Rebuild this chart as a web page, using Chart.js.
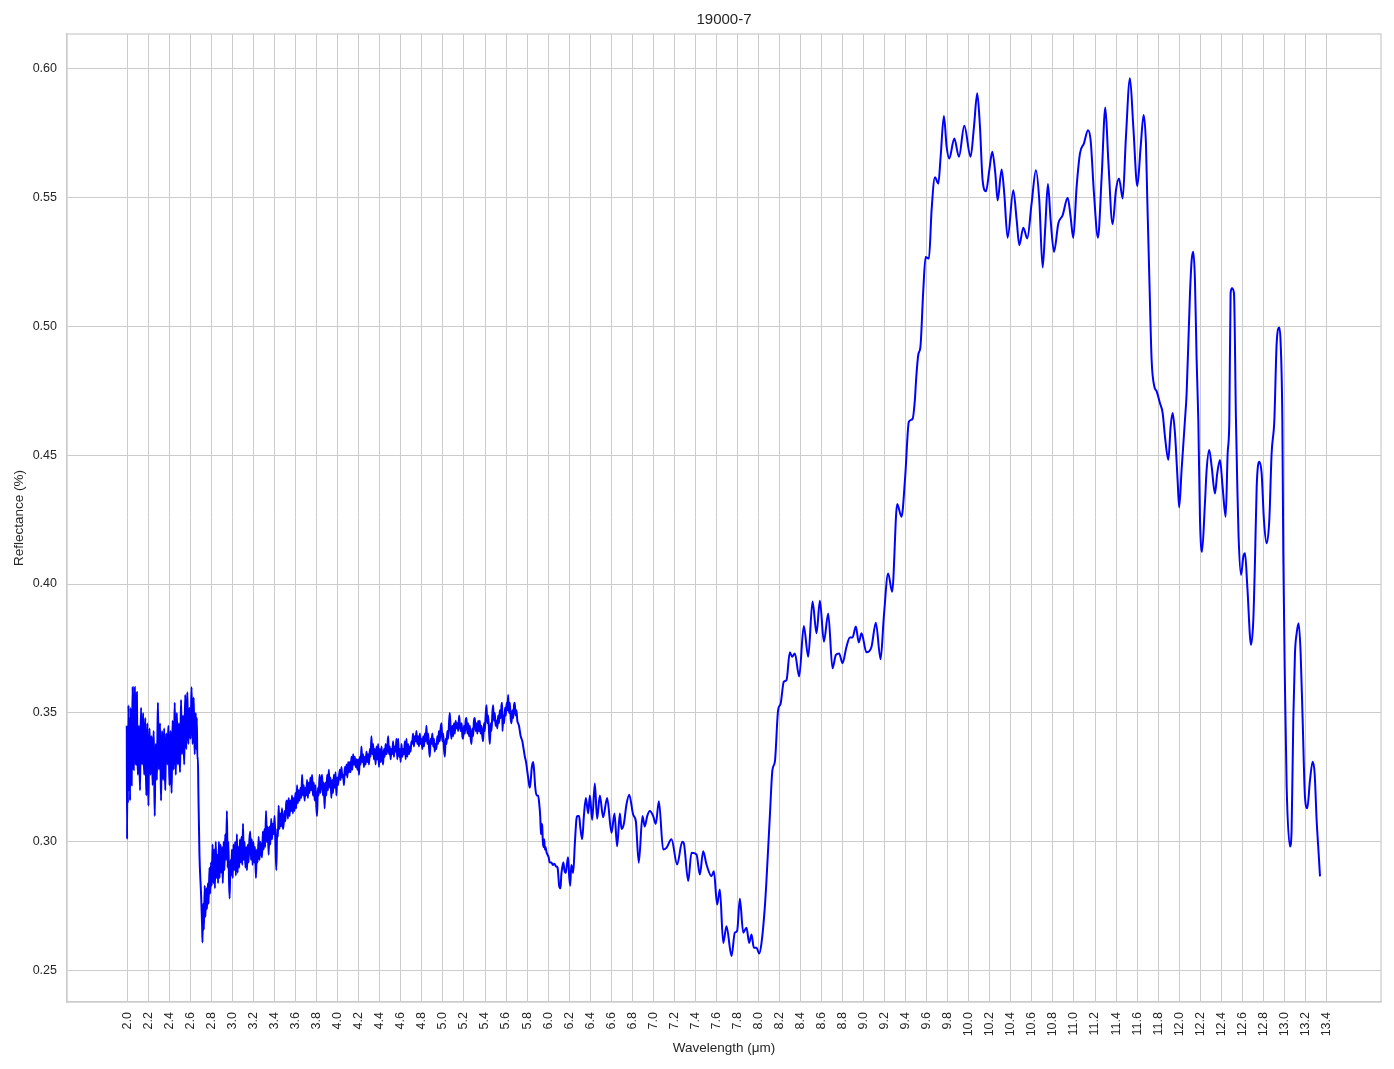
<!DOCTYPE html>
<html lang="en">
<head>
    <meta charset="UTF-8">
    <title>19000-7</title>
    <script src="https://cdn.jsdelivr.net/npm/chart.js"></script>
    <style>
     body{
         margin: 0;
         background: #ffffff;
     }
     #chart-spectrum{
         display: block;
     }
    </style>
</head>
<body>
    <canvas id="chart-spectrum" width="1394" height="1069"></canvas>

<script>
    // tick labels
    const xTicks = [2.0,2.2,2.4,2.6,2.8,3.0,3.2,3.4,3.6,3.8,4.0,4.2,4.4,4.6,4.8,5.0,5.2,5.4,5.6,5.8,
        6.0,6.2,6.4,6.6,6.8,7.0,7.2,7.4,7.6,7.8,8.0,8.2,8.4,8.6,8.8,9.0,9.2,9.4,9.6,9.8,
        10.0,10.2,10.4,10.6,10.8,11.0,11.2,11.4,11.6,11.8,12.0,12.2,12.4,12.6,12.8,13.0,13.2,13.4];
    const yTicks = [0.25,0.30,0.35,0.40,0.45,0.50,0.55,0.60];

    // noisy start 2.0 - 2.7 um
    const wlBand = [1.994,1.997,2.000,2.005,2.010,2.015,2.020,2.025,
        2.030,2.035,2.040,2.045,2.050,2.055,2.060,2.065,2.070,2.075,
        2.080,2.085,2.090,2.095,2.100,2.105,2.110,2.115,2.120,2.125,
        2.130,2.135,2.140,2.145,2.150,2.155,2.160,2.165,2.170,2.175,
        2.180,2.185,2.190,2.195,2.200,2.205,2.210,2.215,2.220,2.225,
        2.230,2.235,2.240,2.245,2.250,2.255,2.260,2.265,2.270,2.275,
        2.280,2.285,2.290,2.295,2.300,2.305,2.310,2.315,2.320,2.325,
        2.330,2.335,2.340,2.345,2.350,2.355,2.360,2.365,2.370,2.375,
        2.380,2.385,2.390,2.395,2.400,2.405,2.410,2.415,2.420,2.425,
        2.430,2.435,2.440,2.445,2.450,2.455,2.460,2.465,2.470,2.475,
        2.480,2.485,2.490,2.495,2.500,2.505,2.510,2.515,2.520,2.525,
        2.530,2.535,2.540,2.545,2.550,2.555,2.560,2.565,2.570,2.575,
        2.580,2.585,2.590,2.595,2.600,2.605,2.610,2.615,2.620,2.625,
        2.630,2.635,2.640,2.645,2.650,
        2.655,2.660,2.665,2.670,2.675,2.685,2.700,2.710,2.714];
    const rfBand = [0.345,0.301,0.340,0.315,0.353,0.320,0.348,0.316,
        0.352,0.331,0.322,0.344,0.360,0.335,0.328,0.350,0.360,0.338,
        0.330,0.352,0.358,0.334,0.326,0.340,0.345,0.331,0.320,0.341,
        0.352,0.336,0.330,0.344,0.350,0.333,0.326,0.339,0.348,0.330,
        0.318,0.337,0.346,0.329,0.314,0.333,0.344,0.336,0.326,0.338,
        0.341,0.331,0.322,0.337,0.343,0.325,0.310,0.330,0.338,0.332,
        0.324,0.340,0.354,0.337,0.328,0.339,0.346,0.330,0.316,0.333,
        0.343,0.334,0.324,0.338,0.344,0.331,0.320,0.335,0.342,0.336,
        0.330,0.339,0.345,0.333,0.322,0.336,0.343,0.330,0.319,0.334,
        0.347,0.337,0.328,0.342,0.354,0.338,0.326,0.341,0.350,0.339,
        0.330,0.340,0.346,0.335,0.327,0.342,0.355,0.341,0.334,0.343,
        0.349,0.338,0.330,0.345,0.357,0.343,0.336,0.349,0.358,0.345,
        0.338,0.346,0.352,0.344,0.340,0.351,0.360,0.347,0.338,0.348,
        0.356,0.343,0.334,0.343,0.350,
        0.336,0.348,0.332,0.333,0.319,0.295,0.280,0.268,0.261];

    // slow rise 2.7 - 4.0 um
    const wlRise = [2.720,2.727,2.735,2.742,2.750,2.757,2.765,2.772,2.780,2.787,2.795,2.802,2.810,2.817,
        2.825,2.832,2.840,2.847,2.855,2.862,2.870,2.877,2.885,2.892,2.900,2.907,2.915,2.922,2.930,2.938,
        2.946,2.953,2.960,2.966,2.972,2.980,2.987,2.994,3.001,3.009,3.016,3.024,3.031,3.041,3.048,3.056,
        3.063,3.070,3.078,3.085,3.092,3.099,3.106,3.114,3.122,3.130,3.137,3.145,3.152,3.160,3.168,3.175,
        3.183,3.190,3.198,3.205,3.213,3.222,3.230,3.238,3.248,3.256,3.264,3.272,3.280,3.288,3.296,3.303,
        3.310,3.318,3.326,3.334,3.343,3.351,3.359,3.367,3.375,3.383,3.391,3.399,3.407,3.416,3.424,3.431,
        3.438,3.446,3.454,3.462,3.470,3.478,3.486,3.494,3.502,3.510,3.518,3.526,3.534,3.542,3.550,3.558,
        3.565,3.573,3.581,3.589,3.597,3.605,3.613,3.621,3.629,3.637,3.645,3.653,3.661,3.669,3.677,3.685,
        3.693,3.700,3.708,3.716,3.724,3.732,3.740,3.748,3.756,3.764,3.772,3.780,3.788,3.796,3.803,3.811,
        3.819,3.827,3.835,3.843,3.851,3.859,3.867,3.875,3.883,3.891,3.899,3.907,3.915,3.923,3.931,3.939,
        3.947,3.955,3.963,3.971,3.979,3.987,3.995];
    const rfRise = [0.276,0.266,0.283,0.271,0.282,0.274,0.284,0.276,0.290,0.280,0.292,0.283,0.299,0.284,
        0.297,0.282,0.300,0.286,0.295,0.284,0.300,0.286,0.299,0.288,0.298,0.284,0.300,0.289,0.303,0.293,
        0.312,0.290,0.300,0.285,0.278,0.293,0.287,0.297,0.286,0.299,0.289,0.300,0.287,0.303,0.288,0.298,
        0.290,0.301,0.292,0.302,0.291,0.307,0.293,0.300,0.290,0.298,0.289,0.299,0.292,0.301,0.304,0.293,
        0.301,0.291,0.300,0.292,0.298,0.286,0.297,0.292,0.302,0.293,0.300,0.296,0.294,0.304,0.297,0.305,
        0.298,0.312,0.300,0.306,0.295,0.306,0.299,0.309,0.301,0.307,0.303,0.310,0.300,0.289,0.305,0.302,
        0.314,0.305,0.311,0.306,0.313,0.305,0.307,0.312,0.308,0.315,0.316,0.309,0.317,0.310,0.316,0.312,
        0.318,0.311,0.317,0.312,0.319,0.313,0.322,0.315,0.320,0.316,0.321,0.317,0.326,0.318,0.322,0.316,
        0.321,0.318,0.324,0.317,0.323,0.319,0.325,0.320,0.326,0.318,0.323,0.316,0.322,0.314,0.310,0.321,
        0.318,0.326,0.319,0.324,0.326,0.318,0.323,0.313,0.323,0.318,0.326,0.320,0.328,0.321,0.325,0.317,
        0.324,0.319,0.326,0.321,0.327,0.318,0.325];

    // plateau 4.0 - 5.8 um
    const wlPlateau = [4.003,4.019,4.027,4.035,4.043,4.051,4.059,4.067,4.075,4.083,4.091,4.099,4.107,4.114,
        4.122,4.130,4.138,4.146,4.154,4.162,4.170,4.178,4.186,4.194,4.202,4.210,4.218,4.225,4.233,4.241,
        4.249,4.257,4.265,4.273,4.281,4.289,4.297,4.305,4.312,4.320,4.328,4.336,4.344,4.352,4.360,4.368,
        4.376,4.384,4.392,4.400,4.408,4.416,4.424,4.431,4.439,4.447,4.455,4.463,4.471,4.479,4.487,4.495,
        4.503,4.510,4.518,4.526,4.534,4.542,4.550,4.558,4.566,4.574,4.582,4.590,4.598,4.606,4.614,4.622,
        4.630,4.638,4.646,4.653,4.661,4.669,4.677,4.685,4.693,4.700,4.708,4.716,4.724,4.732,4.740,4.748,
        4.756,4.764,4.772,4.780,4.788,4.796,4.804,4.812,4.820,4.828,4.836,4.843,4.851,4.859,4.867,4.875,
        4.883,4.891,4.899,4.907,4.915,4.922,4.930,4.938,4.946,4.954,4.962,4.970,4.978,4.986,4.994,5.002,
        5.010,5.018,5.026,5.034,5.042,5.050,5.058,5.065,5.073,5.081,5.089,5.097,5.105,5.113,5.121,5.129,
        5.137,5.145,5.154,5.162,5.170,5.178,5.185,5.192,5.200,5.208,5.216,5.224,5.232,5.240,5.248,5.256,
        5.264,5.271,5.279,5.287,5.295,5.303,5.311,5.319,5.327,5.335,5.343,5.350,5.358,5.366,5.374,5.382,
        5.390,5.398,5.406,5.414,5.422,5.430,5.438,5.446,5.454,5.462,5.470,5.477,5.485,5.493,5.501,5.509,
        5.517,5.525,5.533,5.541,5.549,5.557,5.563,5.566,5.574,5.582,5.590,5.598,5.606,5.613,5.620,5.628,
        5.636,5.644,5.652,5.660,5.668,5.676,5.683,5.691,5.699,5.707,5.715,5.723,5.731,5.739,5.747,5.755,
        5.763,5.771,5.779];
    const rfPlateau = [0.322,0.328,0.324,0.329,0.325,0.326,0.322,0.329,0.326,0.330,0.325,0.331,0.327,0.331,
        0.327,0.333,0.328,0.334,0.330,0.333,0.329,0.332,0.328,0.332,0.326,0.333,0.330,0.337,0.331,0.334,
        0.329,0.333,0.330,0.335,0.331,0.334,0.330,0.336,0.333,0.341,0.334,0.338,0.332,0.336,0.330,0.337,
        0.332,0.338,0.329,0.336,0.331,0.337,0.332,0.330,0.336,0.333,0.338,0.334,0.336,0.341,0.334,0.337,
        0.332,0.336,0.334,0.339,0.333,0.337,0.335,0.340,0.332,0.340,0.333,0.336,0.331,0.338,0.333,0.336,
        0.334,0.339,0.332,0.340,0.333,0.338,0.334,0.337,0.335,0.339,0.338,0.342,0.337,0.341,0.339,0.343,
        0.338,0.341,0.337,0.342,0.338,0.340,0.336,0.341,0.337,0.342,0.339,0.345,0.338,0.342,0.337,0.333,
        0.340,0.338,0.342,0.337,0.340,0.335,0.338,0.336,0.341,0.338,0.343,0.339,0.344,0.346,0.339,0.342,
        0.336,0.333,0.340,0.338,0.343,0.340,0.346,0.350,0.344,0.340,0.345,0.341,0.346,0.342,0.347,0.344,
        0.346,0.343,0.349,0.345,0.343,0.346,0.341,0.340,0.345,0.342,0.347,0.348,0.342,0.346,0.341,0.345,
        0.340,0.338,0.344,0.341,0.347,0.348,0.343,0.346,0.342,0.347,0.343,0.347,0.342,0.345,0.341,0.339,
        0.346,0.343,0.349,0.353,0.346,0.349,0.343,0.338,0.346,0.343,0.350,0.353,0.347,0.350,0.345,0.347,
        0.344,0.349,0.346,0.351,0.348,0.353,0.354,0.343,0.349,0.346,0.352,0.349,0.354,0.351,0.357,0.350,
        0.354,0.348,0.346,0.351,0.348,0.353,0.354,0.349,0.351,0.347,0.346,0.345,0.343,0.341,0.340,0.339,
        0.337,0.335,0.333];

    // trough 5.8 - 8.1 um
    const wlTrough = [5.790,5.800,5.810,5.820,5.826,5.835,5.845,5.858,5.868,5.878,5.890,5.905,5.915,5.925,
        5.932,5.938,5.944,5.950,5.957,5.963,5.969,5.975,5.985,5.995,6.005,6.015,6.032,6.045,6.060,6.075,
        6.090,6.097,6.105,6.118,6.125,6.134,6.145,6.155,6.168,6.178,6.190,6.200,6.210,6.220,6.229,6.238,
        6.255,6.270,6.280,6.295,6.305,6.324,6.340,6.359,6.381,6.397,6.419,6.444,6.466,6.492,6.523,6.561,
        6.603,6.631,6.656,6.682,6.698,6.720,6.745,6.771,6.809,6.834,6.862,6.897,6.919,6.942,6.967,6.999,
        7.024,7.053,7.094,7.125,7.173,7.227,7.275,7.290,7.332,7.363,7.411,7.443,7.474,7.506,7.553,7.576,
        7.607,7.633,7.665,7.696,7.744,7.775,7.797,7.823,7.855,7.886,7.912,7.934,7.956,7.982,8.007,8.029,
        8.061,8.076];
    const rfTrough = [0.331,0.328,0.325,0.322,0.321,0.324,0.329,0.331,0.327,0.321,0.318,0.318,0.315,0.310,
        0.303,0.307,0.306,0.300,0.298,0.301,0.297,0.298,0.296,0.295,0.294,0.292,0.292,0.291,0.2915,0.2905,
        0.290,0.287,0.283,0.282,0.287,0.290,0.292,0.289,0.288,0.291,0.294,0.287,0.283,0.291,0.290,0.288,
        0.300,0.309,0.310,0.310,0.306,0.301,0.310,0.317,0.311,0.318,0.3085,0.3226,0.309,0.318,0.3095,0.317,
        0.3035,0.311,0.2983,0.311,0.305,0.307,0.3145,0.3183,0.3105,0.308,0.2919,0.310,0.306,0.310,0.312,0.310,
        0.307,0.3158,0.297,0.2977,0.301,0.2912,0.300,0.2995,0.2848,0.2958,0.2951,0.2873,0.2964,0.2912,0.2867,0.2886,
        0.2757,0.2815,0.2608,0.2673,0.2557,0.2648,0.2654,0.2779,0.2648,0.2667,0.2608,0.2641,0.2589,0.2589,0.2567,0.2608,
        0.275,0.285];

    // broad peak 8.1 - 13.35 um
    const wlPeak = [8.108,8.133,8.156,8.187,8.210,8.241,8.267,8.298,8.320,8.346,8.387,8.431,8.473,8.514,
        8.552,8.584,8.622,8.663,8.704,8.736,8.767,8.799,8.837,8.869,8.894,8.926,8.954,8.980,9.027,9.075,
        9.116,9.161,9.192,9.233,9.271,9.319,9.360,9.395,9.430,9.465,9.487,9.500,9.520,9.540,9.567,9.589,
        9.621,9.646,9.678,9.710,9.732,9.763,9.789,9.814,9.862,9.906,9.957,10.017,10.049,10.080,10.106,10.131,
        10.163,10.195,10.223,10.252,10.274,10.312,10.337,10.369,10.423,10.455,10.480,10.518,10.556,10.597,10.638,10.670,
        10.702,10.727,10.752,10.778,10.810,10.851,10.892,10.940,10.968,10.993,11.025,11.057,11.095,11.133,11.158,11.190,
        11.228,11.263,11.298,11.326,11.367,11.399,11.428,11.463,11.494,11.532,11.564,11.602,11.634,11.662,11.684,11.697,
        11.716,11.738,11.764,11.786,11.817,11.843,11.865,11.897,11.919,11.938,11.960,11.985,12.000,12.023,12.055,12.071,
        12.103,12.119,12.134,12.150,12.166,12.182,12.198,12.217,12.245,12.261,12.286,12.309,12.340,12.362,12.388,12.413,
        12.442,12.461,12.477,12.489,12.502,12.521,12.540,12.553,12.565,12.588,12.610,12.626,12.648,12.683,12.705,12.721,
        12.737,12.762,12.784,12.806,12.832,12.857,12.879,12.905,12.927,12.952,12.965,12.981,12.990,13.006,13.022,13.054,
        13.069,13.085,13.101,13.117,13.136,13.155,13.174,13.196,13.218,13.244,13.269,13.288,13.307,13.326,13.339];
    const rfPeak = [0.3098,0.3279,0.3311,0.3512,0.3535,0.3621,0.3628,0.3735,0.3718,0.3731,0.3641,0.3837,0.3718,0.3932,
        0.3809,0.3935,0.3776,0.3886,0.3673,0.3725,0.3731,0.3693,0.3757,0.3793,0.3793,0.3835,0.3773,0.3809,0.3735,0.3757,
        0.3850,0.3708,0.3873,0.4041,0.3970,0.4310,0.4261,0.4416,0.4629,0.4640,0.4713,0.4800,0.4890,0.4920,0.5139,0.5268,
        0.5262,0.5450,0.5577,0.5553,0.5657,0.5815,0.5696,0.5650,0.5728,0.5657,0.5777,0.5657,0.5773,0.5903,0.5773,0.5566,
        0.5523,0.5605,0.5676,0.5592,0.5488,0.5608,0.5514,0.5343,0.5527,0.5411,0.5314,0.5382,0.5340,0.5476,0.5605,0.5488,
        0.5227,0.5385,0.5551,0.5411,0.5288,0.5398,0.5430,0.5498,0.5424,0.5342,0.5540,0.5670,0.5709,0.5760,0.5722,0.5514,
        0.5343,0.5579,0.5848,0.5644,0.5395,0.5527,0.5573,0.5495,0.5735,0.5961,0.5773,0.5543,0.5696,0.5819,0.5709,0.5490,
        0.5192,0.4870,0.4766,0.4747,0.4702,0.4663,0.4572,0.4482,0.4611,0.4663,0.4585,0.4404,0.4297,0.4442,0.4636,0.4740,
        0.5128,0.5257,0.5289,0.5179,0.4870,0.4636,0.4248,0.4125,0.4313,0.4442,0.4520,0.4455,0.4351,0.4429,0.4481,0.4377,
        0.4261,0.4506,0.4636,0.5128,0.5147,0.5128,0.4636,0.4377,0.4183,0.4035,0.4106,0.4119,0.3990,0.3764,0.3861,0.4093,
        0.4377,0.4474,0.4429,0.4248,0.4158,0.4248,0.4506,0.4636,0.4934,0.4995,0.4934,0.4636,0.4119,0.3602,0.3214,0.2982,
        0.3046,0.3473,0.3731,0.3809,0.3848,0.3731,0.3473,0.3176,0.3130,0.3240,0.3311,0.3266,0.3085,0.2956,0.2866];

    const wavelength = [].concat(wlBand, wlRise, wlPlateau, wlTrough, wlPeak);
    const reflectance = [].concat(rfBand, rfRise, rfPlateau, rfTrough, rfPeak);
    if (wavelength.length !== reflectance.length) {
        console.warn('length mismatch', wavelength.length, reflectance.length);
    }
    const points = wavelength.map((w, i) => ({x: w, y: reflectance[i]}));

    const textColor = '#262626';
    const gridColor = '#cccccc';
    Chart.defaults.font.family = "'Liberation Sans', Arial, sans-serif";

    // top/right spines like seaborn whitegrid
    const frame = {
        id: 'frame',
        beforeDatasetsDraw(chart) {
            const a = chart.chartArea;
            const c = chart.ctx;
            c.save();
            c.strokeStyle = gridColor;
            c.lineWidth = 1.25;
            c.strokeRect(a.left, a.top, a.right - a.left, a.bottom - a.top);
            c.restore();
        }
    };

    const ctx = document.getElementById('chart-spectrum').getContext('2d');
    window.spectrumChart = new Chart(ctx, {
        type: 'line',
        data: {
            datasets: [{
                label: '19000-7',
                data: points,
                borderColor: '#0000ff',
                borderWidth: 2,
                pointRadius: 0,
                fill: false,
                cubicInterpolationMode: 'monotone'
            }]
        },
        options: {
            responsive: false,
            animation: false,
            layout: {padding: {left: 0, right: 13, top: 0, bottom: 0}},
            plugins: {
                legend: {display: false},
                tooltip: {enabled: false},
                title: {
                    display: true,
                    text: '19000-7',
                    fullSize: false,
                    color: textColor,
                    font: {size: 15, weight: 'normal'},
                    padding: {top: 11, bottom: 5}
                }
            },
            scales: {
                x: {
                    type: 'linear',
                    min: 1.4256,
                    max: 13.919,
                    afterBuildTicks: s => { s.ticks = xTicks.map(v => ({value: v})); },
                    afterFit: s => { s.height = 67; },
                    ticks: {
                        autoSkip: false,
                        minRotation: 90,
                        maxRotation: 90,
                        padding: 10,
                        color: textColor,
                        font: {size: 12.5},
                        callback: v => Number(v).toFixed(1)
                    },
                    grid: {color: gridColor, lineWidth: 1, drawTicks: false},
                    border: {color: gridColor, width: 1.25},
                    title: {
                        display: true,
                        text: 'Wavelength (μm)',
                        color: textColor,
                        font: {size: 13.5},
                        padding: {top: 0, bottom: 13}
                    }
                },
                y: {
                    type: 'linear',
                    min: 0.2379,
                    max: 0.6133,
                    afterBuildTicks: s => { s.ticks = yTicks.map(v => ({value: v})); },
                    afterFit: s => { s.width = 67; },
                    ticks: {
                        padding: 10,
                        color: textColor,
                        font: {size: 12.5},
                        callback: v => Number(v).toFixed(2)
                    },
                    grid: {color: gridColor, lineWidth: 1, drawTicks: false},
                    border: {color: gridColor, width: 1.25},
                    title: {
                        display: true,
                        text: 'Reflectance (%)',
                        color: textColor,
                        font: {size: 13.5},
                        padding: {top: 11, bottom: 0}
                    }
                }
            }
        },
        plugins: [frame]
    });
</script>
</body>
</html>
